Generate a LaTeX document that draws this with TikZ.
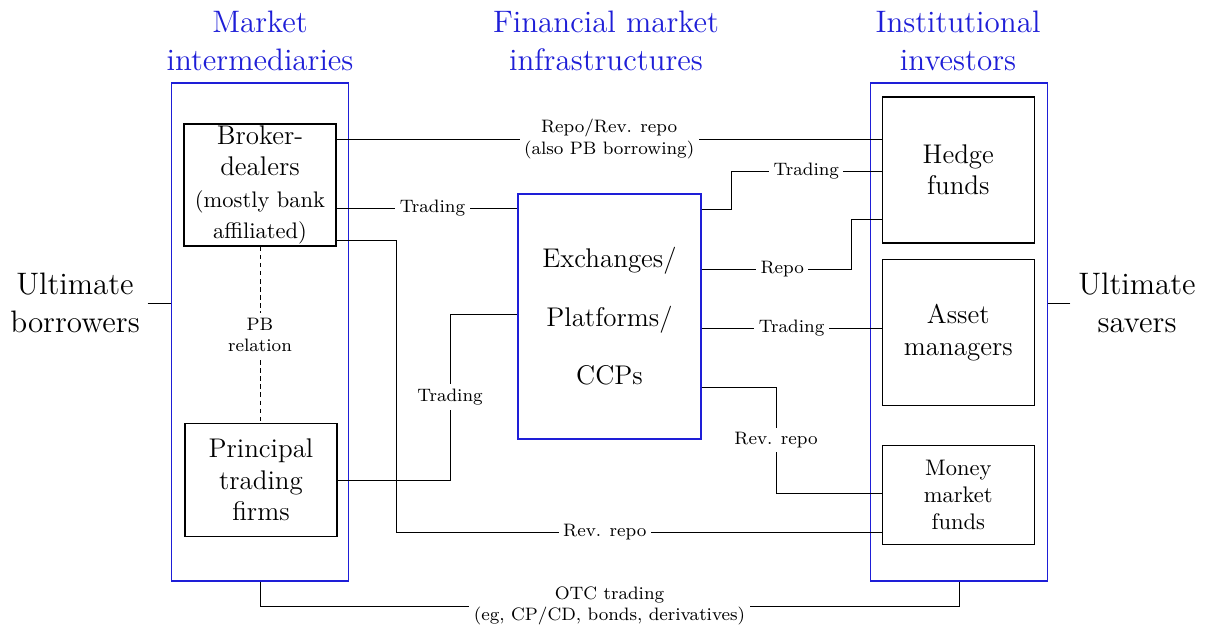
\documentclass[tikz,border=0pt]{standalone}
\usepackage{tikz}
\usetikzlibrary{positioning, calc}
\newlength{\pu}\setlength{\pu}{0.4444pt}
\definecolor{grpblue}{RGB}{30,30,215}

\begin{document}
\begin{tikzpicture}[x=\pu, y=-\pu,
    group/.style={draw=grpblue, line width=0.5pt, minimum width=177\pu, minimum height=498\pu},
    actor/.style={draw, semithick, minimum width=152\pu, align=center, inner sep=0pt},
    lbl/.style={fill=white, font=\footnotesize, align=center, inner sep=2pt},
    title/.style={text=grpblue, font=\fontsize{13.8pt}{17pt}\selectfont, align=center},
    side/.style={font=\fontsize{13.8pt}{17pt}\selectfont, align=center}]
    \useasboundingbox (0,0) rectangle (1205,632);
    % Groups and their titles
    \node[group] (mi) at (260,332) {};
    \node[group] (ii) at (959,332) {};
    \node[title] at (260,41) {Market\\intermediaries};
    \node[title] at (606,41) {Financial market\\infrastructures};
    \node[title] at (958,41) {Institutional\\investors};
    % Actors
    \node[actor, minimum height=122\pu, font=\large] (bd) at (260,185)
        {Broker-\\dealers\\\normalsize (mostly bank\\\normalsize affiliated)};
    \node[actor, minimum height=113\pu, font=\large] (ptf) at (261,480) {Principal\\trading\\firms};
    \node[draw=grpblue, semithick, minimum width=183\pu, minimum height=245\pu, font=\large, align=center]
        (ex) at (609.5,316.5) {Exchanges/\\[12pt]Platforms/\\[12pt]CCPs};
    \node[actor, minimum height=146\pu, font=\large] (hf) at (958.3,170) {Hedge\\funds};
    \node[actor, minimum height=146\pu, font=\large] (am) at (958.3,332.5) {Asset\\managers};
    \node[actor, minimum height=99\pu] (mmf) at (958.3,494.7) {Money\\market\\funds};
    \node[side] (ub) at (75,303) {Ultimate\\borrowers};
    \node[side] (us) at (1137,303) {Ultimate\\savers};
    % Connections
    \draw (ub.east) -- (ub.east -| mi.west);
    \draw (us.west) -- (us.west -| ii.east);
    \draw[dash pattern=on 2pt off 1.6pt] (bd.south) -- node[lbl]{PB\\relation} (bd.south |- ptf.north);
    \draw (bd.east |- 0,139) -- node[lbl]{Repo/Rev. repo\\(also PB borrowing)} (hf.west |- 0,139);
    \draw (bd.east |- 0,208) -- node[lbl, pos=0.53]{Trading} (ex.west |- 0,208);
    \draw (bd.east |- 0,240) -| (396,532) -- node[lbl, pos=0.43]{Rev. repo} (mmf.west |- 0,532);
    \draw (ptf.east |- 0,480) -| node[lbl, pos=0.75]{Trading} (450,314) -- (ex.west |- 0,314);
    \draw (ex.east |- 0,209) -| (731,171) -- node[lbl]{Trading} (hf.west |- 0,171);
    \draw (ex.east |- 0,269) -- node[lbl, pos=0.54]{Repo} (851,269) |- (hf.west |- 0,219);
    \draw (ex.east |- 0,328) -- node[lbl]{Trading} (am.west |- 0,328);
    \draw (ex.east |- 0,387) -| node[lbl, pos=0.75]{Rev. repo} (776,493) -- (mmf.west |- 0,493);
    \draw (mi.south) |- node[lbl, pos=0.75]{OTC trading\\(eg, CP/CD, bonds, derivatives)} (ii.south |- 0,606) -- (ii.south);
\end{tikzpicture}
\end{document}
